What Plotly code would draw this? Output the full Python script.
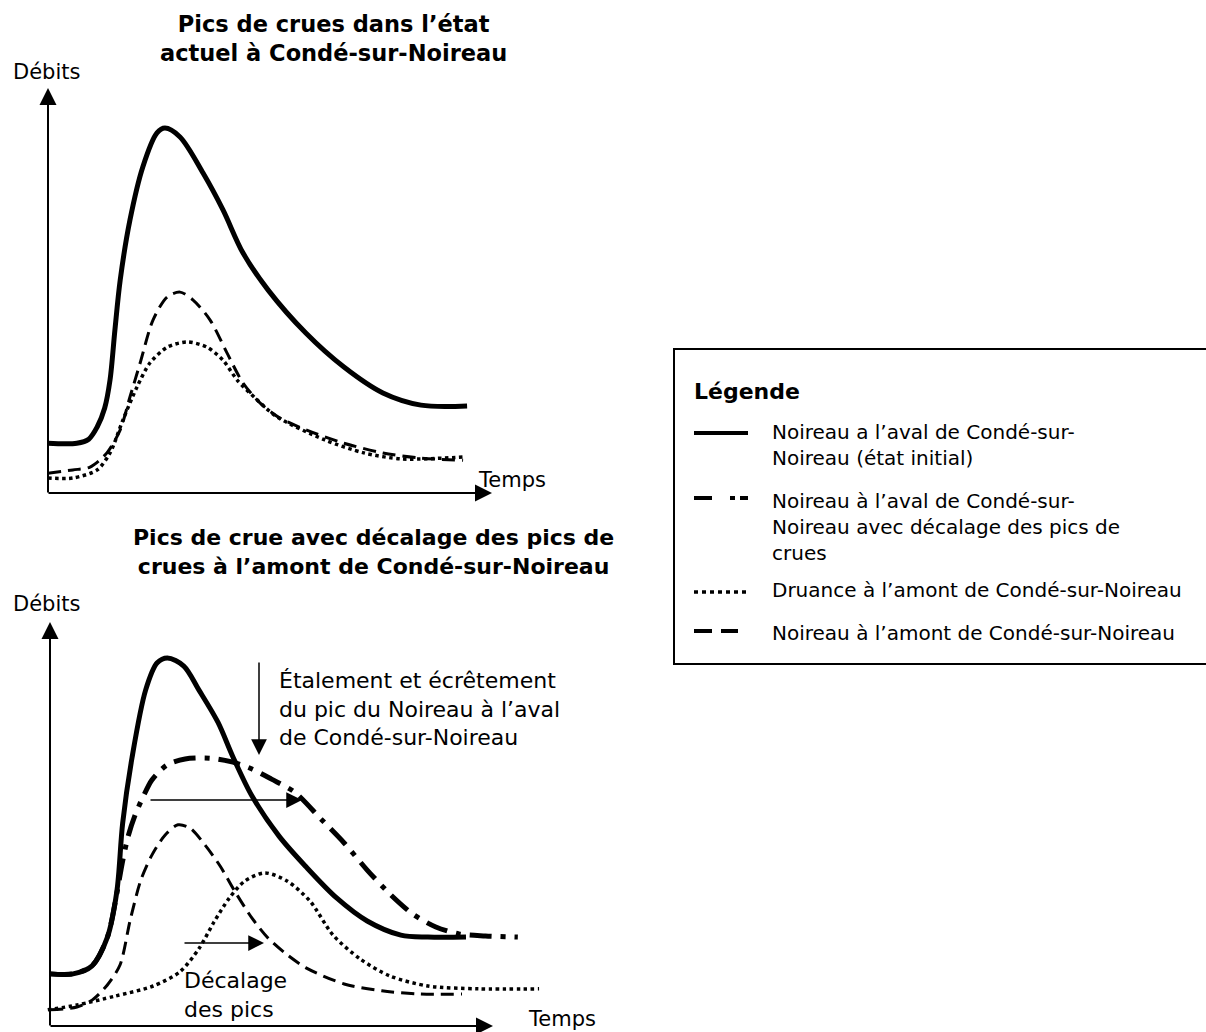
import plotly.graph_objects as go

# ---------------- DATA (schematic hydrographs, arbitrary units: time / discharge) ----------------
# Top panel - "Pics de crues dans l'état actuel à Condé-sur-Noireau"
top_aval_t = [0.0, 0.65, 0.92, 1.11, 1.28, 1.40, 1.51, 1.63, 1.85, 2.14, 2.46, 2.64, 2.98, 3.50, 3.95, 4.40, 4.97, 5.82, 6.68, 7.56, 8.42, 9.46]
top_aval_q = [1.23, 1.23, 1.33, 1.63, 2.10, 2.79, 4.02, 5.26, 6.74, 8.05, 8.89, 9.01, 8.79, 7.90, 6.99, 5.93, 5.01, 3.95, 3.11, 2.47, 2.17, 2.15]

top_noireau_amont_t = [0.0, 0.56, 0.95, 1.33, 1.63, 1.85, 2.08, 2.37, 2.69, 2.98, 3.27, 3.66, 4.04, 4.40, 4.79, 5.19, 5.82, 6.68, 7.56, 8.42, 9.37]
top_noireau_amont_q = [0.49, 0.57, 0.64, 0.99, 1.56, 2.37, 3.21, 4.27, 4.84, 4.96, 4.77, 4.27, 3.46, 2.72, 2.22, 1.88, 1.56, 1.23, 0.99, 0.86, 0.81]

top_druance_t = [0.0, 0.56, 1.11, 1.40, 1.69, 2.01, 2.30, 2.69, 3.14, 3.59, 3.95, 4.27, 4.72, 5.17, 6.25, 7.13, 7.99, 9.37]
top_druance_q = [0.37, 0.37, 0.57, 0.99, 1.80, 2.62, 3.21, 3.60, 3.73, 3.60, 3.28, 2.79, 2.30, 1.88, 1.31, 0.99, 0.84, 0.89]

# Bottom panel - "Pics de crue avec décalage des pics de crues à l'amont de Condé-sur-Noireau"
bot_aval_t = [0.0, 0.52, 0.95, 1.29, 1.51, 1.64, 1.85, 2.16, 2.42, 2.65, 3.02, 3.36, 3.79, 4.13, 4.56, 5.17, 5.78, 6.47, 7.16, 7.92, 8.53, 9.39]
bot_aval_q = [1.29, 1.29, 1.49, 2.18, 3.34, 5.02, 6.63, 8.32, 8.99, 9.11, 8.91, 8.32, 7.52, 6.66, 5.69, 4.70, 3.94, 3.17, 2.60, 2.25, 2.20, 2.20]

bot_aval_decale_t = [0.0, 0.52, 0.95, 1.29, 1.51, 1.63, 1.76, 1.92, 2.10, 2.30, 2.64, 3.05, 3.61, 4.13, 4.56, 5.00, 5.52, 6.12, 6.64, 7.16, 7.67, 8.19, 8.71, 9.23, 9.83, 10.56]
bot_aval_decale_q = [1.29, 1.29, 1.49, 2.18, 3.29, 4.03, 4.68, 5.22, 5.67, 6.09, 6.46, 6.61, 6.63, 6.53, 6.36, 6.11, 5.79, 5.12, 4.53, 3.86, 3.27, 2.77, 2.45, 2.28, 2.23, 2.20]

bot_noireau_amont_t = [0.0, 0.61, 0.95, 1.29, 1.58, 1.81, 2.05, 2.30, 2.60, 2.89, 3.16, 3.50, 3.84, 4.18, 4.56, 4.92, 5.30, 5.78, 6.64, 7.49, 8.35, 9.30]
bot_noireau_amont_q = [0.40, 0.47, 0.64, 1.01, 1.51, 2.62, 3.61, 4.23, 4.73, 4.98, 4.90, 4.48, 3.96, 3.32, 2.67, 2.18, 1.81, 1.44, 1.04, 0.87, 0.79, 0.79]

bot_druance_t = [-0.05, 0.61, 1.47, 2.33, 2.93, 3.36, 3.70, 4.05, 4.40, 4.85, 5.35, 5.87, 6.39, 7.00, 7.67, 8.53, 9.66, 11.04]
bot_druance_q = [0.40, 0.52, 0.74, 0.99, 1.34, 1.91, 2.57, 3.17, 3.59, 3.79, 3.59, 3.09, 2.25, 1.66, 1.24, 0.99, 0.92, 0.92]

# ---------------- TEXTS ----------------
title_top = "Pics de crues dans l’état<br>actuel à Condé-sur-Noireau"
title_bot = "Pics de crue avec décalage des pics de<br>crues à l’amont de Condé-sur-Noireau"
y_label = "Débits"
x_label = "Temps"
note_etalement = "Étalement et écrêtement<br>du pic du Noireau à l’aval<br>de Condé-sur-Noireau"
note_decalage = "Décalage<br>des pics"
legend_title = "Légende"
legend_labels = [
    "Noireau a l’aval de Condé-sur-<br>Noireau (état initial)",
    "Noireau à l’aval de Condé-sur-<br>Noireau avec décalage des pics de<br>crues",
    "Druance à l’amont de Condé-sur-Noireau",
    "Noireau à l’amont de Condé-sur-Noireau",
]

# ---------------- STYLES ----------------
W, H = 1206, 1032
FONT = "DejaVu Sans"
S_SOLID = dict(color="black", width=5, shape="spline", smoothing=0.9)
S_DASHDOT = dict(color="black", width=5, dash="22px,9px,5px,9px", shape="spline", smoothing=0.8)
S_DASH = dict(color="black", width=3, dash="13px,7px", shape="spline", smoothing=0.8)
S_DOT = dict(color="black", width=3.5, dash="3.5px,3.5px", shape="spline", smoothing=0.8)

# panel geometry in page pixels: origin, pixels per unit, drawing box (left, right, top, bottom)
TOP = dict(ox=48, oy=493, sx=44.3, sy=40.5, box=(0, 640, 60, 530))
BOT = dict(ox=50, oy=1026, sx=44.3, sy=40.4, box=(0, 640, 585, 1032))


def px(x):
    return x / W


def py(y):
    return 1 - y / H


def axes_for(g):
    x0, x1, y0, y1 = g["box"]
    return dict(
        xdom=[px(x0), px(x1)],
        ydom=[py(y1), py(y0)],
        xr=[(x0 - g["ox"]) / g["sx"], (x1 - g["ox"]) / g["sx"]],
        yr=[(g["oy"] - y1) / g["sy"], (g["oy"] - y0) / g["sy"]],
    )


fig = go.Figure()

def add_line(t, q, style, name, panel):
    xa, ya = ("x", "y") if panel == 1 else ("x2", "y2")
    fig.add_trace(go.Scatter(x=t, y=q, mode="lines", line=style, name=name,
                             xaxis=xa, yaxis=ya, showlegend=False, hoverinfo="skip",
                             cliponaxis=False))

add_line(top_aval_t, top_aval_q, S_SOLID, legend_labels[0], 1)
add_line(top_noireau_amont_t, top_noireau_amont_q, S_DASH, legend_labels[3], 1)
add_line(top_druance_t, top_druance_q, S_DOT, legend_labels[2], 1)

add_line(bot_aval_t, bot_aval_q, S_SOLID, legend_labels[0], 2)
add_line(bot_aval_decale_t, bot_aval_decale_q, S_DASHDOT, legend_labels[1], 2)
add_line(bot_noireau_amont_t, bot_noireau_amont_q, S_DASH, legend_labels[3], 2)
add_line(bot_druance_t, bot_druance_q, S_DOT, legend_labels[2], 2)

a1, a2 = axes_for(TOP), axes_for(BOT)
hidden = dict(visible=False, showgrid=False, zeroline=False, fixedrange=True)
fig.update_layout(
    width=W, height=H, autosize=False,
    margin=dict(l=0, r=0, t=0, b=0),
    paper_bgcolor="white", plot_bgcolor="rgba(0,0,0,0)",
    showlegend=False,
    xaxis=dict(domain=a1["xdom"], range=a1["xr"], anchor="y", **hidden),
    yaxis=dict(domain=a1["ydom"], range=a1["yr"], anchor="x", **hidden),
    xaxis2=dict(domain=a2["xdom"], range=a2["xr"], anchor="y2", **hidden),
    yaxis2=dict(domain=a2["ydom"], range=a2["yr"], anchor="x2", **hidden),
    font=dict(family=FONT, color="black"),
)

ann = []
shapes = []


def arrow(tip, tail, width=2, size=1.7):
    ann.append(dict(xref="paper", yref="paper", x=px(tip[0]), y=py(tip[1]),
                    ax=tail[0] - tip[0], ay=tail[1] - tip[1], axref="pixel", ayref="pixel",
                    showarrow=True, arrowhead=2, arrowsize=size, arrowwidth=width,
                    arrowcolor="black", text="", standoff=0))


def text(s, x, y, size, bold=False, xanchor="left", align="left"):
    if bold:
        s = "<b>" + s.replace("<br>", "</b><br><b>") + "</b>"
    ann.append(dict(xref="paper", yref="paper", x=px(x), y=py(y), text=s, showarrow=False,
                    xanchor=xanchor, yanchor="middle", align=align,
                    font=dict(family=FONT, size=size, color="black")))


# axes (arrows)
arrow((TOP["ox"], 88), (TOP["ox"], TOP["oy"] + 1))
arrow((492, TOP["oy"]), (TOP["ox"] - 1, TOP["oy"]))
arrow((BOT["ox"], 622), (BOT["ox"], BOT["oy"] + 1))
arrow((493, BOT["oy"]), (BOT["ox"] - 1, BOT["oy"]))

# explanatory arrows bottom panel
arrow((259, 755), (259, 661), width=1.5, size=2.1)
arrow((302, 800), (149, 800), width=1.5, size=2.1)
arrow((264, 943), (183, 943), width=1.5, size=2.1)

# texts
text(title_top, 333, 39, 22.5, bold=True, xanchor="center", align="center")
text(title_bot, 374, 552, 22, bold=True, xanchor="center", align="center")
text(y_label, 11, 72, 21)
text(y_label, 11, 604, 21)
text(x_label, 476, 480, 21)
text(x_label, 526, 1019, 21)
text(note_etalement, 277, 709, 22)
text(note_decalage, 182, 995, 22)

# legend box
shapes.append(dict(type="rect", xref="paper", yref="paper", x0=px(674), x1=px(1240),
                   y0=py(664), y1=py(349), line=dict(color="black", width=2)))
text(legend_title, 692, 391, 22, bold=True)
legend_rows = [
    (445, 433, dict(color="black", width=4)),
    (527, 498, dict(color="black", width=4, dash="18px,18px,5px,5px,8px,200px")),
    (590, 592, dict(color="black", width=3.5, dash="4px,4px")),
    (633, 631, dict(color="black", width=4, dash="18px,9px,17px,200px")),
]
for (ty, ly, lstyle), lab in zip(legend_rows, legend_labels):
    shapes.append(dict(type="line", xref="paper", yref="paper", x0=px(694), x1=px(748),
                       y0=py(ly), y1=py(ly), line=lstyle))
    text(lab, 770, ty, 20)

fig.update_layout(annotations=ann, shapes=shapes)
# remove the browser's default 8px body margin so the figure fills the window exactly
fig.write_html("out.html", config={"displayModeBar": False},
               post_script="document.body.style.margin='0px';")
